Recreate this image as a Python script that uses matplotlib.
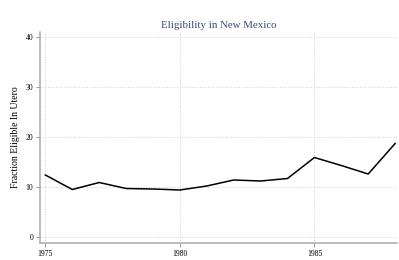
import matplotlib
matplotlib.use("Agg")
import matplotlib.pyplot as plt

years = [1975, 1976, 1977, 1978, 1979, 1980, 1981, 1982, 1983, 1984, 1985, 1986, 1987, 1988]
eligible = [12.4, 9.5, 10.9, 9.7, 9.6, 9.4, 10.2, 11.4, 11.2, 11.7, 15.9, 14.3, 12.6, 18.7]
xticks = [1975, 1980, 1985]
yticks = [0, 10, 20, 30, 40]

plt.rcParams['font.family'] = ['Liberation Serif', 'DejaVu Serif']

fig = plt.figure(figsize=(3.99, 2.6), dpi=100)
ax = fig.add_axes([40/399, 1 - 243/260, 357/399, 211/260])

ax.plot(years, eligible, color='black', lw=1.1)

ax.set_xlim(1974.8, 1988.07)
ax.set_ylim(-1.2, 41)
ax.set_xticks(xticks)
ax.set_yticks(yticks)
ax.tick_params(labelsize=5.5, length=3, width=0.6, color='#888888', pad=2)
ax.grid(True, ls=':', color='#d0d0d0', lw=0.7)

for s in ['top', 'right']:
    ax.spines[s].set_visible(False)
ax.spines['left'].set_color('#b0b0b0')
ax.spines['left'].set_linewidth(1.2)
ax.spines['bottom'].set_color('#b0b0b0')
ax.spines['bottom'].set_linewidth(1.2)

ax.set_ylabel('Fraction Eligible In Utero', fontsize=7)
ax.set_title('Eligibility in New Mexico', fontsize=7.8, color='#3b4670', pad=3)

fig.savefig('out.png', dpi=100)
